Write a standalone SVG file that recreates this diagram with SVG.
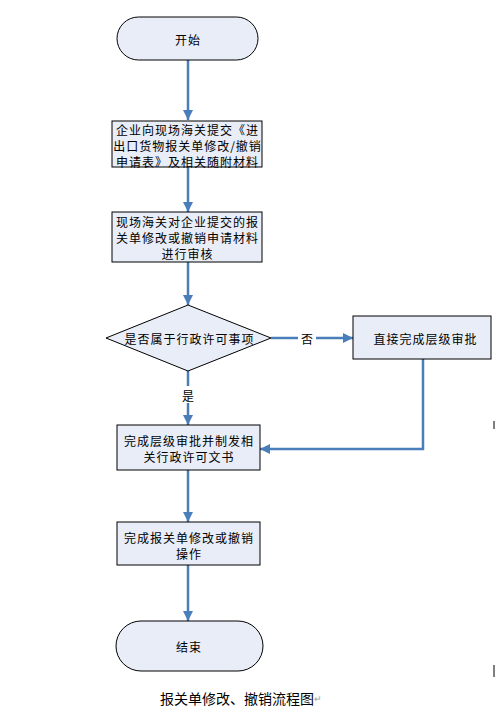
<svg xmlns="http://www.w3.org/2000/svg" width="495" height="707" viewBox="0 0 495 707">
<style>
.n{fill:#e8edf7;stroke:#000;stroke-width:1}
.t{font-family:"Noto Sans CJK SC","Liberation Sans",sans-serif;font-size:12px;letter-spacing:1px;fill:#000;text-anchor:middle;dominant-baseline:central}
.c{fill:none;stroke:#4a7ebb;stroke-width:2.5}
</style>
<defs>
<marker id="ah" viewBox="0 0 10 10" refX="10" refY="5" markerWidth="4" markerHeight="4" orient="auto" markerUnits="strokeWidth">
<path d="M0,0 L10,5 L0,10 z" fill="#4a7ebb"/>
</marker>
</defs>
<rect width="495" height="707" fill="#fff"/>
<g id="connectors">
<path class="c" d="M188,60 V120" marker-end="url(#ah)"/>
<path class="c" d="M188,167 V212" marker-end="url(#ah)"/>
<path class="c" d="M188,262 V305" marker-end="url(#ah)"/>
<path class="c" d="M271,338 H298"/>
<path class="c" d="M316,338 H353" marker-end="url(#ah)"/>
<path class="c" d="M188,371 V386"/>
<path class="c" d="M188,403 V425" marker-end="url(#ah)"/>
<path class="c" d="M423,359 V449 H260" marker-end="url(#ah)"/>
<path class="c" d="M188,470 V522" marker-end="url(#ah)"/>
<path class="c" d="M188,565 V621" marker-end="url(#ah)"/>
<text class="t" x="307.5" y="338">否</text>
<text class="t" x="188.5" y="395">是</text>
</g>
<g id="start">
<rect class="n" x="117" y="17" width="141" height="43" rx="21.5"/>
<text class="t" x="188" y="39">开始</text>
</g>
<g id="submit">
<rect class="n" x="112" y="121" width="150" height="46"/>
<text class="t" x="187.5" y="129">企业向现场海关提交《进</text>
<text class="t" x="187.5" y="145">出口货物报关单修改/撤销</text>
<text class="t" x="187.5" y="161">申请表》及相关随附材料</text>
</g>
<g id="review">
<rect class="n" x="112" y="212" width="150" height="50"/>
<text class="t" x="187.5" y="221">现场海关对企业提交的报</text>
<text class="t" x="187.5" y="237">关单修改或撤销申请材料</text>
<text class="t" x="187.5" y="253">进行审核</text>
</g>
<g id="decision">
<polygon class="n" points="188,305 271,338 188,371 106,338"/>
<text class="t" x="189.5" y="338">是否属于行政许可事项</text>
</g>
<g id="direct">
<rect class="n" x="353" y="316" width="138" height="43"/>
<text class="t" x="425.5" y="338">直接完成层级审批</text>
</g>
<g id="approve">
<rect class="n" x="117" y="425" width="143" height="45"/>
<text class="t" x="189" y="440">完成层级审批并制发相</text>
<text class="t" x="189" y="456">关行政许可文书</text>
</g>
<g id="complete">
<rect class="n" x="117" y="522" width="143" height="43"/>
<text class="t" x="189" y="537">完成报关单修改或撤销</text>
<text class="t" x="189" y="553">操作</text>
</g>
<g id="end">
<rect class="n" x="116" y="621" width="147" height="50" rx="25"/>
<text class="t" x="189" y="646">结束</text>
</g>
<g id="caption">
<text x="160" y="698" font-family="Noto Sans CJK SC, Liberation Sans, sans-serif" font-size="14" dominant-baseline="central">报关单修改、撤销流程图<tspan font-size="9" fill="#999">↵</tspan></text>
</g>
<line x1="494" y1="421" x2="494" y2="429" stroke="#000" stroke-width="1"/>
<line x1="494" y1="665" x2="494" y2="677" stroke="#000" stroke-width="1"/>
</svg>
